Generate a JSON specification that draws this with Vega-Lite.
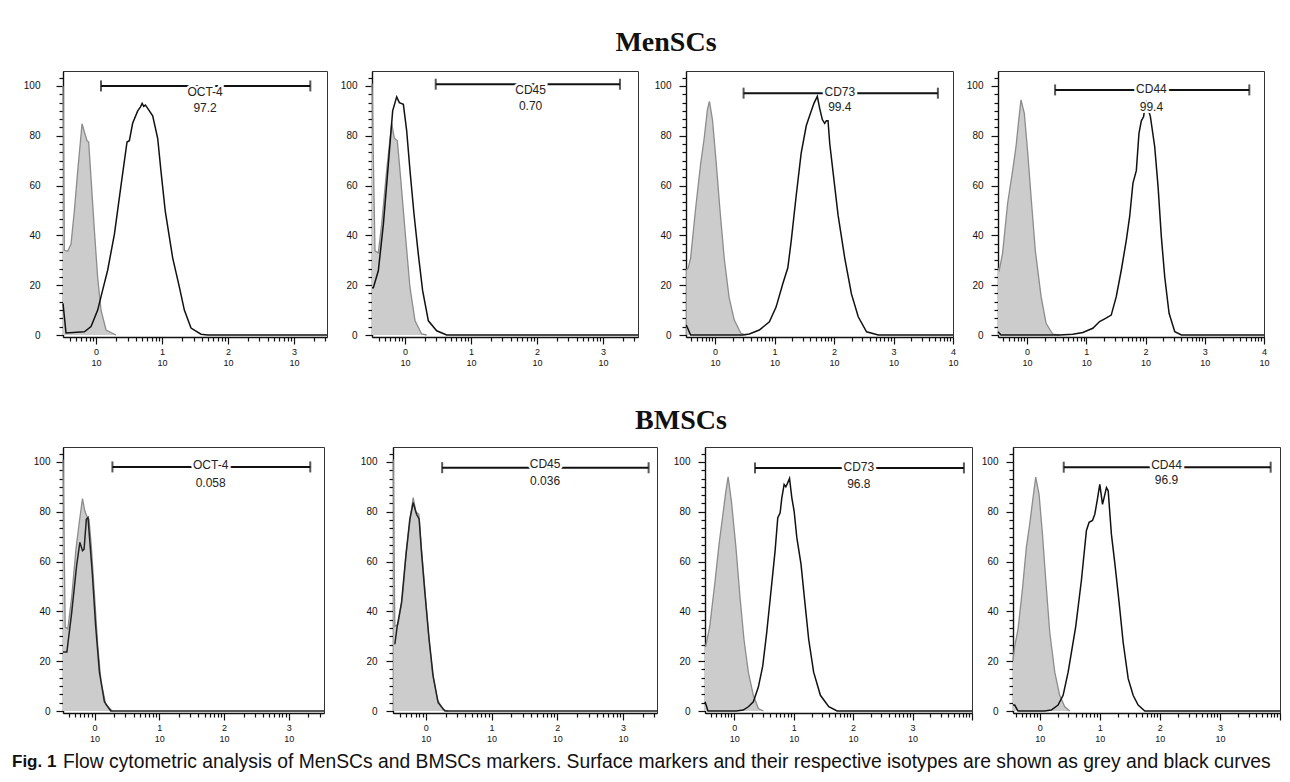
{
"$schema": "https://vega.github.io/schema/vega-lite/v6.json",
"padding": 0,
"autosize": {"type": "pad"},
"background": "white",
"spacing": 0,
"datasets": {
"curves": [
{"p":"p1","s":"i","x":0.316,"y":100},{"p":"p1","s":"i","x":0.331,"y":34},{"p":"p1","s":"i","x":0.372,"y":33.6},{"p":"p1","s":"i","x":0.418,"y":36.5},{"p":"p1","s":"i","x":0.47,"y":50},{"p":"p1","s":"i","x":0.527,"y":65.6},{"p":"p1","s":"i","x":0.614,"y":84.8},{"p":"p1","s":"i","x":0.666,"y":81.5},{"p":"p1","s":"i","x":0.731,"y":78},{"p":"p1","s":"i","x":0.774,"y":77.5},{"p":"p1","s":"i","x":0.84,"y":63},{"p":"p1","s":"i","x":0.944,"y":42},{"p":"p1","s":"i","x":1.06,"y":23},{"p":"p1","s":"i","x":1.19,"y":10},{"p":"p1","s":"i","x":1.42,"y":2},{"p":"p1","s":"i","x":2.01,"y":0},
{"p":"p1","s":"m","x":0.316,"y":12.7},{"p":"p1","s":"m","x":0.351,"y":0.8},{"p":"p1","s":"m","x":0.666,"y":1.3},{"p":"p1","s":"m","x":0.84,"y":3.4},{"p":"p1","s":"m","x":1.06,"y":10},{"p":"p1","s":"m","x":1.26,"y":18},{"p":"p1","s":"m","x":1.5,"y":26},{"p":"p1","s":"m","x":1.9,"y":40.5},{"p":"p1","s":"m","x":2.39,"y":60},{"p":"p1","s":"m","x":2.95,"y":77.5},{"p":"p1","s":"m","x":3.2,"y":78},{"p":"p1","s":"m","x":3.59,"y":85},{"p":"p1","s":"m","x":4.28,"y":90},{"p":"p1","s":"m","x":4.7,"y":91.5},{"p":"p1","s":"m","x":5.0,"y":93},{"p":"p1","s":"m","x":5.28,"y":91.8},{"p":"p1","s":"m","x":5.6,"y":92.3},{"p":"p1","s":"m","x":6.07,"y":91},{"p":"p1","s":"m","x":7.22,"y":88},{"p":"p1","s":"m","x":8.6,"y":79},{"p":"p1","s":"m","x":9.66,"y":65.6},{"p":"p1","s":"m","x":11.2,"y":49.7},{"p":"p1","s":"m","x":14.5,"y":31},{"p":"p1","s":"m","x":18.3,"y":19.3},{"p":"p1","s":"m","x":21.8,"y":10},{"p":"p1","s":"m","x":27.5,"y":2.8},{"p":"p1","s":"m","x":39,"y":0.3},{"p":"p1","s":"m","x":49.2,"y":0},{"p":"p1","s":"m","x":3162,"y":0},
{"p":"p2","s":"i","x":0.316,"y":101},{"p":"p2","s":"i","x":0.351,"y":33.8},{"p":"p2","s":"i","x":0.394,"y":33},{"p":"p2","s":"i","x":0.443,"y":44.5},{"p":"p2","s":"i","x":0.527,"y":66},{"p":"p2","s":"i","x":0.628,"y":85},{"p":"p2","s":"i","x":0.689,"y":79},{"p":"p2","s":"i","x":0.765,"y":78},{"p":"p2","s":"i","x":0.859,"y":63},{"p":"p2","s":"i","x":1.0,"y":42},{"p":"p2","s":"i","x":1.19,"y":19},{"p":"p2","s":"i","x":1.42,"y":5.7},{"p":"p2","s":"i","x":1.79,"y":0.4},{"p":"p2","s":"i","x":2.13,"y":0},
{"p":"p2","s":"m","x":0.316,"y":19},{"p":"p2","s":"m","x":0.331,"y":19},{"p":"p2","s":"m","x":0.394,"y":25.8},{"p":"p2","s":"m","x":0.47,"y":44.5},{"p":"p2","s":"m","x":0.559,"y":68.6},{"p":"p2","s":"m","x":0.65,"y":90},{"p":"p2","s":"m","x":0.748,"y":95.6},{"p":"p2","s":"m","x":0.821,"y":93.3},{"p":"p2","s":"m","x":0.944,"y":92.6},{"p":"p2","s":"m","x":1.06,"y":82},{"p":"p2","s":"m","x":1.19,"y":66},{"p":"p2","s":"m","x":1.37,"y":48.5},{"p":"p2","s":"m","x":1.59,"y":32.5},{"p":"p2","s":"m","x":1.85,"y":17.8},{"p":"p2","s":"m","x":2.26,"y":5.7},{"p":"p2","s":"m","x":3.02,"y":1.7},{"p":"p2","s":"m","x":4.28,"y":0},{"p":"p2","s":"m","x":3400,"y":0},
{"p":"p3","s":"i","x":0.327,"y":26},{"p":"p3","s":"i","x":0.354,"y":27},{"p":"p3","s":"i","x":0.388,"y":31},{"p":"p3","s":"i","x":0.471,"y":51},{"p":"p3","s":"i","x":0.573,"y":69},{"p":"p3","s":"i","x":0.652,"y":78.6},{"p":"p3","s":"i","x":0.742,"y":90.5},{"p":"p3","s":"i","x":0.802,"y":93.8},{"p":"p3","s":"i","x":0.902,"y":86.5},{"p":"p3","s":"i","x":1.03,"y":70.7},{"p":"p3","s":"i","x":1.2,"y":51},{"p":"p3","s":"i","x":1.42,"y":31},{"p":"p3","s":"i","x":1.72,"y":15},{"p":"p3","s":"i","x":2.1,"y":6},{"p":"p3","s":"i","x":2.71,"y":0.7},{"p":"p3","s":"i","x":3.3,"y":0},
{"p":"p3","s":"m","x":0.327,"y":4},{"p":"p3","s":"m","x":0.388,"y":0},{"p":"p3","s":"m","x":2.9,"y":0},{"p":"p3","s":"m","x":3.76,"y":0.4},{"p":"p3","s":"m","x":5.54,"y":2},{"p":"p3","s":"m","x":8.18,"y":5.3},{"p":"p3","s":"m","x":10.6,"y":11.2},{"p":"p3","s":"m","x":13.7,"y":20.5},{"p":"p3","s":"m","x":16.7,"y":27},{"p":"p3","s":"m","x":19,"y":37.6},{"p":"p3","s":"m","x":23.1,"y":56},{"p":"p3","s":"m","x":28,"y":73},{"p":"p3","s":"m","x":34.1,"y":84},{"p":"p3","s":"m","x":38.8,"y":88},{"p":"p3","s":"m","x":45.9,"y":93},{"p":"p3","s":"m","x":52.3,"y":95.8},{"p":"p3","s":"m","x":57.3,"y":91},{"p":"p3","s":"m","x":63.5,"y":86.5},{"p":"p3","s":"m","x":69.5,"y":85},{"p":"p3","s":"m","x":74.2,"y":86},{"p":"p3","s":"m","x":79.2,"y":86},{"p":"p3","s":"m","x":84.5,"y":77},{"p":"p3","s":"m","x":96.2,"y":65.4},{"p":"p3","s":"m","x":117,"y":48},{"p":"p3","s":"m","x":151,"y":31},{"p":"p3","s":"m","x":196,"y":16.5},{"p":"p3","s":"m","x":255,"y":7.3},{"p":"p3","s":"m","x":352,"y":1.3},{"p":"p3","s":"m","x":554,"y":0},{"p":"p3","s":"m","x":10000,"y":0},
{"p":"p4","s":"i","x":0.324,"y":27},{"p":"p4","s":"i","x":0.34,"y":26},{"p":"p4","s":"i","x":0.387,"y":32.8},{"p":"p4","s":"i","x":0.471,"y":52.9},{"p":"p4","s":"i","x":0.572,"y":66},{"p":"p4","s":"i","x":0.652,"y":75.6},{"p":"p4","s":"i","x":0.723,"y":86},{"p":"p4","s":"i","x":0.791,"y":94.4},{"p":"p4","s":"i","x":0.901,"y":89},{"p":"p4","s":"i","x":1.03,"y":73},{"p":"p4","s":"i","x":1.17,"y":55.6},{"p":"p4","s":"i","x":1.38,"y":34},{"p":"p4","s":"i","x":1.73,"y":15.4},{"p":"p4","s":"i","x":2.1,"y":4.7},{"p":"p4","s":"i","x":2.72,"y":0.3},{"p":"p4","s":"i","x":3.53,"y":0},
{"p":"p4","s":"m","x":0.324,"y":1.3},{"p":"p4","s":"m","x":0.363,"y":0},{"p":"p4","s":"m","x":3.53,"y":0},{"p":"p4","s":"m","x":5.93,"y":0.3},{"p":"p4","s":"m","x":8.75,"y":1},{"p":"p4","s":"m","x":12.9,"y":2.7},{"p":"p4","s":"m","x":16.8,"y":5.4},{"p":"p4","s":"m","x":21.2,"y":6.7},{"p":"p4","s":"m","x":26.4,"y":8},{"p":"p4","s":"m","x":32.1,"y":15.4},{"p":"p4","s":"m","x":39,"y":26},{"p":"p4","s":"m","x":47.4,"y":38},{"p":"p4","s":"m","x":54,"y":47.5},{"p":"p4","s":"m","x":61.4,"y":61},{"p":"p4","s":"m","x":70,"y":66},{"p":"p4","s":"m","x":77.6,"y":81},{"p":"p4","s":"m","x":85,"y":86},{"p":"p4","s":"m","x":93.1,"y":87.7},{"p":"p4","s":"m","x":96.8,"y":91},{"p":"p4","s":"m","x":103,"y":94},{"p":"p4","s":"m","x":110,"y":91},{"p":"p4","s":"m","x":121,"y":87.7},{"p":"p4","s":"m","x":143,"y":75.6},{"p":"p4","s":"m","x":163,"y":59.6},{"p":"p4","s":"m","x":185,"y":39.5},{"p":"p4","s":"m","x":211,"y":23.4},{"p":"p4","s":"m","x":250,"y":8.7},{"p":"p4","s":"m","x":312,"y":1.3},{"p":"p4","s":"m","x":404,"y":0},{"p":"p4","s":"m","x":10000,"y":0},
{"p":"p5","s":"i","x":0.326,"y":101},{"p":"p5","s":"i","x":0.353,"y":33.7},{"p":"p5","s":"i","x":0.387,"y":33},{"p":"p5","s":"i","x":0.445,"y":46},{"p":"p5","s":"i","x":0.517,"y":65},{"p":"p5","s":"i","x":0.581,"y":75.7},{"p":"p5","s":"i","x":0.652,"y":85.3},{"p":"p5","s":"i","x":0.707,"y":80.4},{"p":"p5","s":"i","x":0.766,"y":78},{"p":"p5","s":"i","x":0.822,"y":77},{"p":"p5","s":"i","x":0.891,"y":66.4},{"p":"p5","s":"i","x":1.0,"y":46.4},{"p":"p5","s":"i","x":1.12,"y":26.4},{"p":"p5","s":"i","x":1.26,"y":11.7},{"p":"p5","s":"i","x":1.5,"y":2.4},{"p":"p5","s":"i","x":1.89,"y":0},
{"p":"p5","s":"m","x":0.326,"y":23.7},{"p":"p5","s":"m","x":0.374,"y":23.7},{"p":"p5","s":"m","x":0.445,"y":39.7},{"p":"p5","s":"m","x":0.529,"y":58.4},{"p":"p5","s":"m","x":0.594,"y":67.7},{"p":"p5","s":"m","x":0.652,"y":64.4},{"p":"p5","s":"m","x":0.69,"y":65},{"p":"p5","s":"m","x":0.748,"y":77},{"p":"p5","s":"m","x":0.793,"y":77.7},{"p":"p5","s":"m","x":0.841,"y":69},{"p":"p5","s":"m","x":0.922,"y":55.7},{"p":"p5","s":"m","x":1.04,"y":34.4},{"p":"p5","s":"m","x":1.19,"y":15.7},{"p":"p5","s":"m","x":1.42,"y":3.7},{"p":"p5","s":"m","x":1.78,"y":0},{"p":"p5","s":"m","x":3500,"y":0},
{"p":"p6","s":"i","x":0.318,"y":101},{"p":"p6","s":"i","x":0.337,"y":34},{"p":"p6","s":"i","x":0.378,"y":34.8},{"p":"p6","s":"i","x":0.441,"y":46},{"p":"p6","s":"i","x":0.507,"y":65},{"p":"p6","s":"i","x":0.583,"y":78},{"p":"p6","s":"i","x":0.641,"y":85.7},{"p":"p6","s":"i","x":0.704,"y":80},{"p":"p6","s":"i","x":0.782,"y":79},{"p":"p6","s":"i","x":0.859,"y":65},{"p":"p6","s":"i","x":0.966,"y":48.9},{"p":"p6","s":"i","x":1.09,"y":31.5},{"p":"p6","s":"i","x":1.26,"y":15.4},{"p":"p6","s":"i","x":1.49,"y":4.7},{"p":"p6","s":"i","x":1.84,"y":0.4},{"p":"p6","s":"i","x":2.19,"y":0},
{"p":"p6","s":"m","x":0.337,"y":26.8},{"p":"p6","s":"m","x":0.366,"y":34},{"p":"p6","s":"m","x":0.426,"y":43.5},{"p":"p6","s":"m","x":0.495,"y":62},{"p":"p6","s":"m","x":0.57,"y":77},{"p":"p6","s":"m","x":0.641,"y":83.7},{"p":"p6","s":"m","x":0.721,"y":79},{"p":"p6","s":"m","x":0.791,"y":77},{"p":"p6","s":"m","x":0.859,"y":63.6},{"p":"p6","s":"m","x":0.966,"y":47.5},{"p":"p6","s":"m","x":1.12,"y":28.8},{"p":"p6","s":"m","x":1.29,"y":14},{"p":"p6","s":"m","x":1.54,"y":3.3},{"p":"p6","s":"m","x":1.95,"y":0},{"p":"p6","s":"m","x":3300,"y":0},
{"p":"p7","s":"i","x":0.323,"y":26},{"p":"p7","s":"i","x":0.332,"y":26},{"p":"p7","s":"i","x":0.388,"y":34},{"p":"p7","s":"i","x":0.471,"y":51},{"p":"p7","s":"i","x":0.557,"y":67},{"p":"p7","s":"i","x":0.635,"y":77.6},{"p":"p7","s":"i","x":0.723,"y":88},{"p":"p7","s":"i","x":0.791,"y":94},{"p":"p7","s":"i","x":0.901,"y":84},{"p":"p7","s":"i","x":1.07,"y":65.7},{"p":"p7","s":"i","x":1.25,"y":46},{"p":"p7","s":"i","x":1.46,"y":28.8},{"p":"p7","s":"i","x":1.73,"y":15.6},{"p":"p7","s":"i","x":2.1,"y":6.3},{"p":"p7","s":"i","x":2.55,"y":1},{"p":"p7","s":"i","x":3.1,"y":0},
{"p":"p7","s":"m","x":0.323,"y":3.7},{"p":"p7","s":"m","x":0.363,"y":0},{"p":"p7","s":"m","x":1.09,"y":0},{"p":"p7","s":"m","x":1.42,"y":0.4},{"p":"p7","s":"m","x":1.73,"y":1.7},{"p":"p7","s":"m","x":2.1,"y":3.7},{"p":"p7","s":"m","x":2.55,"y":9.6},{"p":"p7","s":"m","x":3.02,"y":18},{"p":"p7","s":"m","x":3.52,"y":31.4},{"p":"p7","s":"m","x":4.28,"y":51},{"p":"p7","s":"m","x":4.88,"y":64.4},{"p":"p7","s":"m","x":5.41,"y":77.6},{"p":"p7","s":"m","x":5.93,"y":79.6},{"p":"p7","s":"m","x":6.32,"y":85.5},{"p":"p7","s":"m","x":6.92,"y":91},{"p":"p7","s":"m","x":7.39,"y":90},{"p":"p7","s":"m","x":7.88,"y":91.4},{"p":"p7","s":"m","x":8.53,"y":93.4},{"p":"p7","s":"m","x":9.34,"y":85.5},{"p":"p7","s":"m","x":10.2,"y":80.2},{"p":"p7","s":"m","x":11.3,"y":69.7},{"p":"p7","s":"m","x":13.3,"y":59},{"p":"p7","s":"m","x":15.3,"y":44.6},{"p":"p7","s":"m","x":17.9,"y":28.8},{"p":"p7","s":"m","x":21.7,"y":15.6},{"p":"p7","s":"m","x":28.2,"y":6.3},{"p":"p7","s":"m","x":39,"y":1.7},{"p":"p7","s":"m","x":53.9,"y":0},{"p":"p7","s":"m","x":10000,"y":0},
{"p":"p8","s":"i","x":0.359,"y":20},{"p":"p8","s":"i","x":0.383,"y":26},{"p":"p8","s":"i","x":0.435,"y":32.8},{"p":"p8","s":"i","x":0.514,"y":48.7},{"p":"p8","s":"i","x":0.6,"y":65.9},{"p":"p8","s":"i","x":0.681,"y":75},{"p":"p8","s":"i","x":0.774,"y":85.7},{"p":"p8","s":"i","x":0.858,"y":93.9},{"p":"p8","s":"i","x":0.975,"y":87},{"p":"p8","s":"i","x":1.11,"y":71},{"p":"p8","s":"i","x":1.26,"y":52.6},{"p":"p8","s":"i","x":1.47,"y":31.5},{"p":"p8","s":"i","x":1.78,"y":15.6},{"p":"p8","s":"i","x":2.15,"y":6.3},{"p":"p8","s":"i","x":2.61,"y":1.7},{"p":"p8","s":"i","x":3.16,"y":0},
{"p":"p8","s":"m","x":0.359,"y":2.4},{"p":"p8","s":"m","x":0.383,"y":2.4},{"p":"p8","s":"m","x":0.435,"y":0},{"p":"p8","s":"m","x":1.21,"y":0},{"p":"p8","s":"m","x":1.56,"y":0.4},{"p":"p8","s":"m","x":2.02,"y":2.4},{"p":"p8","s":"m","x":2.45,"y":6.3},{"p":"p8","s":"m","x":2.97,"y":15.6},{"p":"p8","s":"m","x":3.37,"y":23.5},{"p":"p8","s":"m","x":3.98,"y":34},{"p":"p8","s":"m","x":4.95,"y":52.6},{"p":"p8","s":"m","x":5.99,"y":72.5},{"p":"p8","s":"m","x":6.64,"y":75.8},{"p":"p8","s":"m","x":7.55,"y":76.5},{"p":"p8","s":"m","x":8.26,"y":79},{"p":"p8","s":"m","x":9.03,"y":84.4},{"p":"p8","s":"m","x":10,"y":91},{"p":"p8","s":"m","x":11.1,"y":83},{"p":"p8","s":"m","x":11.8,"y":85.7},{"p":"p8","s":"m","x":12.9,"y":89.7},{"p":"p8","s":"m","x":13.8,"y":88.4},{"p":"p8","s":"m","x":15.6,"y":71},{"p":"p8","s":"m","x":17.8,"y":59.3},{"p":"p8","s":"m","x":21,"y":43.4},{"p":"p8","s":"m","x":24.5,"y":27.5},{"p":"p8","s":"m","x":29.7,"y":13},{"p":"p8","s":"m","x":35.9,"y":6.3},{"p":"p8","s":"m","x":43.5,"y":2.4},{"p":"p8","s":"m","x":56.2,"y":0},{"p":"p8","s":"m","x":10000,"y":0}
],
"gates": [
{"p":"p1","x1":1.19,"x2":1767,"y":100,"lx":44.9,"ly":97.6,"vy":91.3,"lab":"OCT-4","val":"97.2"},
{"p":"p2","x1":2.92,"x2":1811,"y":100.7,"lx":80,"ly":98.3,"vy":91.9,"lab":"CD45","val":"0.70"},
{"p":"p3","x1":3.01,"x2":5570,"y":97.1,"lx":125,"ly":97.5,"vy":91.5,"lab":"CD73","val":"99.4"},
{"p":"p4","x1":2.98,"x2":5650,"y":98.4,"lx":126,"ly":98.8,"vy":91.6,"lab":"CD44","val":"99.4"},
{"p":"p5","x1":1.89,"x2":2148,"y":98,"lx":62.2,"ly":98.7,"vy":91.6,"lab":"OCT-4","val":"0.058"},
{"p":"p6","x1":1.77,"x2":2460,"y":97.7,"lx":65.3,"ly":99,"vy":92.5,"lab":"CD45","val":"0.036"},
{"p":"p7","x1":2.24,"x2":7310,"y":97.6,"lx":125,"ly":98,"vy":91.3,"lab":"CD73","val":"96.8"},
{"p":"p8","x1":2.51,"x2":6990,"y":97.9,"lx":129,"ly":98.6,"vy":92.6,"lab":"CD44","val":"96.9"}
]
},
"vconcat": [
{"width": 1206, "height": 70, "view": {"stroke": null}, "data": {"values": [{"t": "MenSCs"}]},
 "mark": {"type": "text", "font": "Liberation Serif", "fontSize": 28, "fontWeight": "bold", "color": "#111", "dy": 7.5},
 "encoding": {"text": {"field": "t", "type": "nominal"}}},
{"hconcat": [
{"width": 264, "height": 266, "layer": [
 {"data": {"name": "curves"}, "transform": [{"filter": "datum.p=='p1' && datum.s=='i'"}], "mark": {"type": "area", "color": "#cccccc", "opacity": 1, "line": {"color": "#8c8c8c", "strokeWidth": 1.3}},
  "encoding": {"x": {"field": "x", "type": "quantitative", "scale": {"type": "log", "domain": [0.316, 3162], "nice": false},
    "axis": {"title": null, "values": [0.4,0.5,0.6,0.7,0.8,0.9,1,2,3,4,5,6,7,8,9,10,20,30,40,50,60,70,80,90,100,200,300,400,500,600,700,800,900,1000,2000,3000], "labelExpr": "datum.value==1?['\u2007\u20070','10']:datum.value==10?['\u2007\u20071','10']:datum.value==100?['\u2007\u20072','10']:datum.value==1000?['\u2007\u20073','10']:datum.value==10000?['\u2007\u20074','10']:''", "tickSize": {"condition": {"test": "abs(log(datum.value)/LN10-round(log(datum.value)/LN10))>0.001", "value": 4}, "value": 7}, "labelPadding": 3, "labelLineHeight": 11, "labelFontSize": 9, "minExtent": 34}},
   "y": {"field": "y", "type": "quantitative", "scale": {"domain": [-0.8, 106], "nice": false, "zero": false},
    "axis": {"title": null, "values": [0,3.333,6.667,10,13.333,16.667,20,23.333,26.667,30,33.333,36.667,40,43.333,46.667,50,53.333,56.667,60,63.333,66.667,70,73.333,76.667,80,83.333,86.667,90,93.333,96.667,100,103.333], "labelExpr": "datum.value%20==0?''+datum.value:''", "tickSize": {"condition": {"test": "datum.value%20!=0", "value": 4}, "value": 7}, "labelPadding": 16, "minExtent": 62}}}},
 {"data": {"name": "curves"}, "transform": [{"filter": "datum.p=='p1' && datum.s=='m'"}], "mark": {"type": "line", "color": "#111", "strokeWidth": 1.5},
  "encoding": {"x": {"field": "x", "type": "quantitative", "scale": {"type": "log", "domain": [0.316, 3162], "nice": false}}, "y": {"field": "y", "type": "quantitative", "scale": {"domain": [-0.8, 106], "nice": false, "zero": false}}}},
 {"data": {"name": "gates"}, "transform": [{"filter": "datum.p=='p1'"}], "layer": [
  {"mark": {"type": "rule", "color": "#111", "strokeWidth": 2}, "encoding": {"x": {"field": "x1", "type": "quantitative", "scale": {"type": "log", "domain": [0.316, 3162], "nice": false}}, "x2": {"field": "x2"}, "y": {"field": "y", "type": "quantitative", "scale": {"domain": [-0.8, 106], "nice": false, "zero": false}}}},
  {"mark": {"type": "tick", "orient": "vertical", "size": 11, "thickness": 2, "color": "#111"}, "encoding": {"x": {"field": "x1", "type": "quantitative"}, "y": {"field": "y", "type": "quantitative"}}},
  {"mark": {"type": "tick", "orient": "vertical", "size": 11, "thickness": 2, "color": "#111"}, "encoding": {"x": {"field": "x2", "type": "quantitative"}, "y": {"field": "y", "type": "quantitative"}}},
  {"mark": {"type": "text", "fontSize": 12, "color": "white", "stroke": "white", "strokeWidth": 5}, "encoding": {"x": {"field": "lx", "type": "quantitative"}, "y": {"field": "ly", "type": "quantitative"}, "text": {"field": "lab"}}},
  {"mark": {"type": "text", "fontSize": 12, "color": "#222"}, "encoding": {"x": {"field": "lx", "type": "quantitative"}, "y": {"field": "ly", "type": "quantitative"}, "text": {"field": "lab"}}},
  {"mark": {"type": "text", "fontSize": 12, "color": "white", "stroke": "white", "strokeWidth": 4}, "encoding": {"x": {"field": "lx", "type": "quantitative"}, "y": {"field": "vy", "type": "quantitative"}, "text": {"field": "val"}}},
  {"mark": {"type": "text", "fontSize": 12, "color": "#222"}, "encoding": {"x": {"field": "lx", "type": "quantitative"}, "y": {"field": "vy", "type": "quantitative"}, "text": {"field": "val"}}}
 ]}
]},
{"width": 266, "height": 266, "layer": [
 {"data": {"name": "curves"}, "transform": [{"filter": "datum.p=='p2' && datum.s=='i'"}], "mark": {"type": "area", "color": "#cccccc", "opacity": 1, "line": {"color": "#8c8c8c", "strokeWidth": 1.3}},
  "encoding": {"x": {"field": "x", "type": "quantitative", "scale": {"type": "log", "domain": [0.316, 3400], "nice": false},
    "axis": {"title": null, "values": [0.4,0.5,0.6,0.7,0.8,0.9,1,2,3,4,5,6,7,8,9,10,20,30,40,50,60,70,80,90,100,200,300,400,500,600,700,800,900,1000,2000,3000], "labelExpr": "datum.value==1?['\u2007\u20070','10']:datum.value==10?['\u2007\u20071','10']:datum.value==100?['\u2007\u20072','10']:datum.value==1000?['\u2007\u20073','10']:datum.value==10000?['\u2007\u20074','10']:''", "tickSize": {"condition": {"test": "abs(log(datum.value)/LN10-round(log(datum.value)/LN10))>0.001", "value": 4}, "value": 7}, "labelPadding": 3, "labelLineHeight": 11, "labelFontSize": 9, "minExtent": 34}},
   "y": {"field": "y", "type": "quantitative", "scale": {"domain": [-0.8, 106], "nice": false, "zero": false},
    "axis": {"title": null, "values": [0,3.333,6.667,10,13.333,16.667,20,23.333,26.667,30,33.333,36.667,40,43.333,46.667,50,53.333,56.667,60,63.333,66.667,70,73.333,76.667,80,83.333,86.667,90,93.333,96.667,100,103.333], "labelExpr": "datum.value%20==0?''+datum.value:''", "tickSize": {"condition": {"test": "datum.value%20!=0", "value": 4}, "value": 7}, "labelPadding": 8, "minExtent": 40}}}},
 {"data": {"name": "curves"}, "transform": [{"filter": "datum.p=='p2' && datum.s=='m'"}], "mark": {"type": "line", "color": "#111", "strokeWidth": 1.5},
  "encoding": {"x": {"field": "x", "type": "quantitative", "scale": {"type": "log", "domain": [0.316, 3400], "nice": false}}, "y": {"field": "y", "type": "quantitative", "scale": {"domain": [-0.8, 106], "nice": false, "zero": false}}}},
 {"data": {"name": "gates"}, "transform": [{"filter": "datum.p=='p2'"}], "layer": [
  {"mark": {"type": "rule", "color": "#111", "strokeWidth": 2}, "encoding": {"x": {"field": "x1", "type": "quantitative", "scale": {"type": "log", "domain": [0.316, 3400], "nice": false}}, "x2": {"field": "x2"}, "y": {"field": "y", "type": "quantitative", "scale": {"domain": [-0.8, 106], "nice": false, "zero": false}}}},
  {"mark": {"type": "tick", "orient": "vertical", "size": 11, "thickness": 2, "color": "#111"}, "encoding": {"x": {"field": "x1", "type": "quantitative"}, "y": {"field": "y", "type": "quantitative"}}},
  {"mark": {"type": "tick", "orient": "vertical", "size": 11, "thickness": 2, "color": "#111"}, "encoding": {"x": {"field": "x2", "type": "quantitative"}, "y": {"field": "y", "type": "quantitative"}}},
  {"mark": {"type": "text", "fontSize": 12, "color": "white", "stroke": "white", "strokeWidth": 5}, "encoding": {"x": {"field": "lx", "type": "quantitative"}, "y": {"field": "ly", "type": "quantitative"}, "text": {"field": "lab"}}},
  {"mark": {"type": "text", "fontSize": 12, "color": "#222"}, "encoding": {"x": {"field": "lx", "type": "quantitative"}, "y": {"field": "ly", "type": "quantitative"}, "text": {"field": "lab"}}},
  {"mark": {"type": "text", "fontSize": 12, "color": "white", "stroke": "white", "strokeWidth": 4}, "encoding": {"x": {"field": "lx", "type": "quantitative"}, "y": {"field": "vy", "type": "quantitative"}, "text": {"field": "val"}}},
  {"mark": {"type": "text", "fontSize": 12, "color": "#222"}, "encoding": {"x": {"field": "lx", "type": "quantitative"}, "y": {"field": "vy", "type": "quantitative"}, "text": {"field": "val"}}}
 ]}
]},
{"width": 267, "height": 266, "layer": [
 {"data": {"name": "curves"}, "transform": [{"filter": "datum.p=='p3' && datum.s=='i'"}], "mark": {"type": "area", "color": "#cccccc", "opacity": 1, "line": {"color": "#8c8c8c", "strokeWidth": 1.3}},
  "encoding": {"x": {"field": "x", "type": "quantitative", "scale": {"type": "log", "domain": [0.324, 10000], "nice": false},
    "axis": {"title": null, "values": [0.4,0.5,0.6,0.7,0.8,0.9,1,2,3,4,5,6,7,8,9,10,20,30,40,50,60,70,80,90,100,200,300,400,500,600,700,800,900,1000,2000,3000,4000,5000,6000,7000,8000,9000,10000], "labelExpr": "datum.value==1?['\u2007\u20070','10']:datum.value==10?['\u2007\u20071','10']:datum.value==100?['\u2007\u20072','10']:datum.value==1000?['\u2007\u20073','10']:datum.value==10000?['\u2007\u20074','10']:''", "tickSize": {"condition": {"test": "abs(log(datum.value)/LN10-round(log(datum.value)/LN10))>0.001", "value": 4}, "value": 7}, "labelPadding": 3, "labelLineHeight": 11, "labelFontSize": 9, "minExtent": 34}},
   "y": {"field": "y", "type": "quantitative", "scale": {"domain": [-0.8, 106], "nice": false, "zero": false},
    "axis": {"title": null, "values": [0,3.333,6.667,10,13.333,16.667,20,23.333,26.667,30,33.333,36.667,40,43.333,46.667,50,53.333,56.667,60,63.333,66.667,70,73.333,76.667,80,83.333,86.667,90,93.333,96.667,100,103.333], "labelExpr": "datum.value%20==0?''+datum.value:''", "tickSize": {"condition": {"test": "datum.value%20!=0", "value": 4}, "value": 7}, "labelPadding": 8, "minExtent": 43}}}},
 {"data": {"name": "curves"}, "transform": [{"filter": "datum.p=='p3' && datum.s=='m'"}], "mark": {"type": "line", "color": "#111", "strokeWidth": 1.5},
  "encoding": {"x": {"field": "x", "type": "quantitative", "scale": {"type": "log", "domain": [0.324, 10000], "nice": false}}, "y": {"field": "y", "type": "quantitative", "scale": {"domain": [-0.8, 106], "nice": false, "zero": false}}}},
 {"data": {"name": "gates"}, "transform": [{"filter": "datum.p=='p3'"}], "layer": [
  {"mark": {"type": "rule", "color": "#111", "strokeWidth": 2}, "encoding": {"x": {"field": "x1", "type": "quantitative", "scale": {"type": "log", "domain": [0.324, 10000], "nice": false}}, "x2": {"field": "x2"}, "y": {"field": "y", "type": "quantitative", "scale": {"domain": [-0.8, 106], "nice": false, "zero": false}}}},
  {"mark": {"type": "tick", "orient": "vertical", "size": 11, "thickness": 2, "color": "#111"}, "encoding": {"x": {"field": "x1", "type": "quantitative"}, "y": {"field": "y", "type": "quantitative"}}},
  {"mark": {"type": "tick", "orient": "vertical", "size": 11, "thickness": 2, "color": "#111"}, "encoding": {"x": {"field": "x2", "type": "quantitative"}, "y": {"field": "y", "type": "quantitative"}}},
  {"mark": {"type": "text", "fontSize": 12, "color": "white", "stroke": "white", "strokeWidth": 5}, "encoding": {"x": {"field": "lx", "type": "quantitative"}, "y": {"field": "ly", "type": "quantitative"}, "text": {"field": "lab"}}},
  {"mark": {"type": "text", "fontSize": 12, "color": "#222"}, "encoding": {"x": {"field": "lx", "type": "quantitative"}, "y": {"field": "ly", "type": "quantitative"}, "text": {"field": "lab"}}},
  {"mark": {"type": "text", "fontSize": 12, "color": "white", "stroke": "white", "strokeWidth": 4}, "encoding": {"x": {"field": "lx", "type": "quantitative"}, "y": {"field": "vy", "type": "quantitative"}, "text": {"field": "val"}}},
  {"mark": {"type": "text", "fontSize": 12, "color": "#222"}, "encoding": {"x": {"field": "lx", "type": "quantitative"}, "y": {"field": "vy", "type": "quantitative"}, "text": {"field": "val"}}}
 ]}
]},
{"width": 266, "height": 266, "layer": [
 {"data": {"name": "curves"}, "transform": [{"filter": "datum.p=='p4' && datum.s=='i'"}], "mark": {"type": "area", "color": "#cccccc", "opacity": 1, "line": {"color": "#8c8c8c", "strokeWidth": 1.3}},
  "encoding": {"x": {"field": "x", "type": "quantitative", "scale": {"type": "log", "domain": [0.324, 10000], "nice": false},
    "axis": {"title": null, "values": [0.4,0.5,0.6,0.7,0.8,0.9,1,2,3,4,5,6,7,8,9,10,20,30,40,50,60,70,80,90,100,200,300,400,500,600,700,800,900,1000,2000,3000,4000,5000,6000,7000,8000,9000,10000], "labelExpr": "datum.value==1?['\u2007\u20070','10']:datum.value==10?['\u2007\u20071','10']:datum.value==100?['\u2007\u20072','10']:datum.value==1000?['\u2007\u20073','10']:datum.value==10000?['\u2007\u20074','10']:''", "tickSize": {"condition": {"test": "abs(log(datum.value)/LN10-round(log(datum.value)/LN10))>0.001", "value": 4}, "value": 7}, "labelPadding": 3, "labelLineHeight": 11, "labelFontSize": 9, "minExtent": 34}},
   "y": {"field": "y", "type": "quantitative", "scale": {"domain": [-0.8, 106], "nice": false, "zero": false},
    "axis": {"title": null, "values": [0,3.333,6.667,10,13.333,16.667,20,23.333,26.667,30,33.333,36.667,40,43.333,46.667,50,53.333,56.667,60,63.333,66.667,70,73.333,76.667,80,83.333,86.667,90,93.333,96.667,100,103.333], "labelExpr": "datum.value%20==0?''+datum.value:''", "tickSize": {"condition": {"test": "datum.value%20!=0", "value": 4}, "value": 7}, "labelPadding": 8, "minExtent": 38}}}},
 {"data": {"name": "curves"}, "transform": [{"filter": "datum.p=='p4' && datum.s=='m'"}], "mark": {"type": "line", "color": "#111", "strokeWidth": 1.5},
  "encoding": {"x": {"field": "x", "type": "quantitative", "scale": {"type": "log", "domain": [0.324, 10000], "nice": false}}, "y": {"field": "y", "type": "quantitative", "scale": {"domain": [-0.8, 106], "nice": false, "zero": false}}}},
 {"data": {"name": "gates"}, "transform": [{"filter": "datum.p=='p4'"}], "layer": [
  {"mark": {"type": "rule", "color": "#111", "strokeWidth": 2}, "encoding": {"x": {"field": "x1", "type": "quantitative", "scale": {"type": "log", "domain": [0.324, 10000], "nice": false}}, "x2": {"field": "x2"}, "y": {"field": "y", "type": "quantitative", "scale": {"domain": [-0.8, 106], "nice": false, "zero": false}}}},
  {"mark": {"type": "tick", "orient": "vertical", "size": 11, "thickness": 2, "color": "#111"}, "encoding": {"x": {"field": "x1", "type": "quantitative"}, "y": {"field": "y", "type": "quantitative"}}},
  {"mark": {"type": "tick", "orient": "vertical", "size": 11, "thickness": 2, "color": "#111"}, "encoding": {"x": {"field": "x2", "type": "quantitative"}, "y": {"field": "y", "type": "quantitative"}}},
  {"mark": {"type": "text", "fontSize": 12, "color": "white", "stroke": "white", "strokeWidth": 5}, "encoding": {"x": {"field": "lx", "type": "quantitative"}, "y": {"field": "ly", "type": "quantitative"}, "text": {"field": "lab"}}},
  {"mark": {"type": "text", "fontSize": 12, "color": "#222"}, "encoding": {"x": {"field": "lx", "type": "quantitative"}, "y": {"field": "ly", "type": "quantitative"}, "text": {"field": "lab"}}},
  {"mark": {"type": "text", "fontSize": 12, "color": "white", "stroke": "white", "strokeWidth": 4}, "encoding": {"x": {"field": "lx", "type": "quantitative"}, "y": {"field": "vy", "type": "quantitative"}, "text": {"field": "val"}}},
  {"mark": {"type": "text", "fontSize": 12, "color": "#222"}, "encoding": {"x": {"field": "lx", "type": "quantitative"}, "y": {"field": "vy", "type": "quantitative"}, "text": {"field": "val"}}}
 ]}
]}
], "spacing": 0},
{"width": 1236, "height": 74, "view": {"stroke": null}, "data": {"values": [{"t": "BMSCs"}]},
 "mark": {"type": "text", "font": "Liberation Serif", "fontSize": 28, "fontWeight": "bold", "color": "#111", "dy": 12},
 "encoding": {"text": {"field": "t", "type": "nominal"}}},
{"hconcat": [
{"width": 261, "height": 266, "layer": [
 {"data": {"name": "curves"}, "transform": [{"filter": "datum.p=='p5' && datum.s=='i'"}], "mark": {"type": "area", "color": "#cccccc", "opacity": 1, "line": {"color": "#8c8c8c", "strokeWidth": 1.3}},
  "encoding": {"x": {"field": "x", "type": "quantitative", "scale": {"type": "log", "domain": [0.326, 3500], "nice": false},
    "axis": {"title": null, "values": [0.4,0.5,0.6,0.7,0.8,0.9,1,2,3,4,5,6,7,8,9,10,20,30,40,50,60,70,80,90,100,200,300,400,500,600,700,800,900,1000,2000,3000], "labelExpr": "datum.value==1?['\u2007\u20070','10']:datum.value==10?['\u2007\u20071','10']:datum.value==100?['\u2007\u20072','10']:datum.value==1000?['\u2007\u20073','10']:''", "tickSize": {"condition": {"test": "abs(log(datum.value)/LN10-round(log(datum.value)/LN10))>0.001", "value": 4}, "value": 7}, "labelPadding": 3, "labelLineHeight": 11, "labelFontSize": 9, "minExtent": 34}},
   "y": {"field": "y", "type": "quantitative", "scale": {"domain": [-0.8, 106], "nice": false, "zero": false},
    "axis": {"title": null, "values": [0,3.333,6.667,10,13.333,16.667,20,23.333,26.667,30,33.333,36.667,40,43.333,46.667,50,53.333,56.667,60,63.333,66.667,70,73.333,76.667,80,83.333,86.667,90,93.333,96.667,100,103.333], "labelExpr": "datum.value%20==0?''+datum.value:''", "tickSize": {"condition": {"test": "datum.value%20!=0", "value": 4}, "value": 7}, "labelPadding": 6, "minExtent": 56}}}},
 {"data": {"name": "curves"}, "transform": [{"filter": "datum.p=='p5' && datum.s=='m'"}], "mark": {"type": "line", "color": "#222", "strokeWidth": 1.5},
  "encoding": {"x": {"field": "x", "type": "quantitative", "scale": {"type": "log", "domain": [0.326, 3500], "nice": false}}, "y": {"field": "y", "type": "quantitative", "scale": {"domain": [-0.8, 106], "nice": false, "zero": false}}}},
 {"data": {"name": "gates"}, "transform": [{"filter": "datum.p=='p5'"}], "layer": [
  {"mark": {"type": "rule", "color": "#111", "strokeWidth": 2}, "encoding": {"x": {"field": "x1", "type": "quantitative", "scale": {"type": "log", "domain": [0.326, 3500], "nice": false}}, "x2": {"field": "x2"}, "y": {"field": "y", "type": "quantitative", "scale": {"domain": [-0.8, 106], "nice": false, "zero": false}}}},
  {"mark": {"type": "tick", "orient": "vertical", "size": 11, "thickness": 2, "color": "#111"}, "encoding": {"x": {"field": "x1", "type": "quantitative"}, "y": {"field": "y", "type": "quantitative"}}},
  {"mark": {"type": "tick", "orient": "vertical", "size": 11, "thickness": 2, "color": "#111"}, "encoding": {"x": {"field": "x2", "type": "quantitative"}, "y": {"field": "y", "type": "quantitative"}}},
  {"mark": {"type": "text", "fontSize": 12, "color": "white", "stroke": "white", "strokeWidth": 5}, "encoding": {"x": {"field": "lx", "type": "quantitative"}, "y": {"field": "ly", "type": "quantitative"}, "text": {"field": "lab"}}},
  {"mark": {"type": "text", "fontSize": 12, "color": "#222"}, "encoding": {"x": {"field": "lx", "type": "quantitative"}, "y": {"field": "ly", "type": "quantitative"}, "text": {"field": "lab"}}},
  {"mark": {"type": "text", "fontSize": 12, "color": "white", "stroke": "white", "strokeWidth": 4}, "encoding": {"x": {"field": "lx", "type": "quantitative"}, "y": {"field": "vy", "type": "quantitative"}, "text": {"field": "val"}}},
  {"mark": {"type": "text", "fontSize": 12, "color": "#222"}, "encoding": {"x": {"field": "lx", "type": "quantitative"}, "y": {"field": "vy", "type": "quantitative"}, "text": {"field": "val"}}}
 ]}
]},
{"width": 264, "height": 266, "layer": [
 {"data": {"name": "curves"}, "transform": [{"filter": "datum.p=='p6' && datum.s=='i'"}], "mark": {"type": "area", "color": "#cccccc", "opacity": 1, "line": {"color": "#8c8c8c", "strokeWidth": 1.3}},
  "encoding": {"x": {"field": "x", "type": "quantitative", "scale": {"type": "log", "domain": [0.316, 3300], "nice": false},
    "axis": {"title": null, "values": [0.4,0.5,0.6,0.7,0.8,0.9,1,2,3,4,5,6,7,8,9,10,20,30,40,50,60,70,80,90,100,200,300,400,500,600,700,800,900,1000,2000,3000], "labelExpr": "datum.value==1?['\u2007\u20070','10']:datum.value==10?['\u2007\u20071','10']:datum.value==100?['\u2007\u20072','10']:datum.value==1000?['\u2007\u20073','10']:''", "tickSize": {"condition": {"test": "abs(log(datum.value)/LN10-round(log(datum.value)/LN10))>0.001", "value": 4}, "value": 7}, "labelPadding": 3, "labelLineHeight": 11, "labelFontSize": 9, "minExtent": 34}},
   "y": {"field": "y", "type": "quantitative", "scale": {"domain": [-0.8, 106], "nice": false, "zero": false},
    "axis": {"title": null, "values": [0,3.333,6.667,10,13.333,16.667,20,23.333,26.667,30,33.333,36.667,40,43.333,46.667,50,53.333,56.667,60,63.333,66.667,70,73.333,76.667,80,83.333,86.667,90,93.333,96.667,100,103.333], "labelExpr": "datum.value%20==0?''+datum.value:''", "tickSize": {"condition": {"test": "datum.value%20!=0", "value": 4}, "value": 7}, "labelPadding": 9, "minExtent": 64}}}},
 {"data": {"name": "curves"}, "transform": [{"filter": "datum.p=='p6' && datum.s=='m'"}], "mark": {"type": "line", "color": "#222", "strokeWidth": 1.5},
  "encoding": {"x": {"field": "x", "type": "quantitative", "scale": {"type": "log", "domain": [0.316, 3300], "nice": false}}, "y": {"field": "y", "type": "quantitative", "scale": {"domain": [-0.8, 106], "nice": false, "zero": false}}}},
 {"data": {"name": "gates"}, "transform": [{"filter": "datum.p=='p6'"}], "layer": [
  {"mark": {"type": "rule", "color": "#111", "strokeWidth": 2}, "encoding": {"x": {"field": "x1", "type": "quantitative", "scale": {"type": "log", "domain": [0.316, 3300], "nice": false}}, "x2": {"field": "x2"}, "y": {"field": "y", "type": "quantitative", "scale": {"domain": [-0.8, 106], "nice": false, "zero": false}}}},
  {"mark": {"type": "tick", "orient": "vertical", "size": 11, "thickness": 2, "color": "#111"}, "encoding": {"x": {"field": "x1", "type": "quantitative"}, "y": {"field": "y", "type": "quantitative"}}},
  {"mark": {"type": "tick", "orient": "vertical", "size": 11, "thickness": 2, "color": "#111"}, "encoding": {"x": {"field": "x2", "type": "quantitative"}, "y": {"field": "y", "type": "quantitative"}}},
  {"mark": {"type": "text", "fontSize": 12, "color": "white", "stroke": "white", "strokeWidth": 5}, "encoding": {"x": {"field": "lx", "type": "quantitative"}, "y": {"field": "ly", "type": "quantitative"}, "text": {"field": "lab"}}},
  {"mark": {"type": "text", "fontSize": 12, "color": "#222"}, "encoding": {"x": {"field": "lx", "type": "quantitative"}, "y": {"field": "ly", "type": "quantitative"}, "text": {"field": "lab"}}},
  {"mark": {"type": "text", "fontSize": 12, "color": "white", "stroke": "white", "strokeWidth": 4}, "encoding": {"x": {"field": "lx", "type": "quantitative"}, "y": {"field": "vy", "type": "quantitative"}, "text": {"field": "val"}}},
  {"mark": {"type": "text", "fontSize": 12, "color": "#222"}, "encoding": {"x": {"field": "lx", "type": "quantitative"}, "y": {"field": "vy", "type": "quantitative"}, "text": {"field": "val"}}}
 ]}
]},
{"width": 267, "height": 266, "layer": [
 {"data": {"name": "curves"}, "transform": [{"filter": "datum.p=='p7' && datum.s=='i'"}], "mark": {"type": "area", "color": "#cccccc", "opacity": 1, "line": {"color": "#8c8c8c", "strokeWidth": 1.3}},
  "encoding": {"x": {"field": "x", "type": "quantitative", "scale": {"type": "log", "domain": [0.323, 10000], "nice": false},
    "axis": {"title": null, "values": [0.4,0.5,0.6,0.7,0.8,0.9,1,2,3,4,5,6,7,8,9,10,20,30,40,50,60,70,80,90,100,200,300,400,500,600,700,800,900,1000,2000,3000,4000,5000,6000,7000,8000,9000,10000], "labelExpr": "datum.value==1?['\u2007\u20070','10']:datum.value==10?['\u2007\u20071','10']:datum.value==100?['\u2007\u20072','10']:datum.value==1000?['\u2007\u20073','10']:''", "tickSize": {"condition": {"test": "abs(log(datum.value)/LN10-round(log(datum.value)/LN10))>0.001", "value": 4}, "value": 7}, "labelPadding": 3, "labelLineHeight": 11, "labelFontSize": 9, "minExtent": 34}},
   "y": {"field": "y", "type": "quantitative", "scale": {"domain": [-0.8, 106], "nice": false, "zero": false},
    "axis": {"title": null, "values": [0,3.333,6.667,10,13.333,16.667,20,23.333,26.667,30,33.333,36.667,40,43.333,46.667,50,53.333,56.667,60,63.333,66.667,70,73.333,76.667,80,83.333,86.667,90,93.333,96.667,100,103.333], "labelExpr": "datum.value%20==0?''+datum.value:''", "tickSize": {"condition": {"test": "datum.value%20!=0", "value": 4}, "value": 7}, "labelPadding": 8, "minExtent": 43}}}},
 {"data": {"name": "curves"}, "transform": [{"filter": "datum.p=='p7' && datum.s=='m'"}], "mark": {"type": "line", "color": "#111", "strokeWidth": 1.5},
  "encoding": {"x": {"field": "x", "type": "quantitative", "scale": {"type": "log", "domain": [0.323, 10000], "nice": false}}, "y": {"field": "y", "type": "quantitative", "scale": {"domain": [-0.8, 106], "nice": false, "zero": false}}}},
 {"data": {"name": "gates"}, "transform": [{"filter": "datum.p=='p7'"}], "layer": [
  {"mark": {"type": "rule", "color": "#111", "strokeWidth": 2}, "encoding": {"x": {"field": "x1", "type": "quantitative", "scale": {"type": "log", "domain": [0.323, 10000], "nice": false}}, "x2": {"field": "x2"}, "y": {"field": "y", "type": "quantitative", "scale": {"domain": [-0.8, 106], "nice": false, "zero": false}}}},
  {"mark": {"type": "tick", "orient": "vertical", "size": 11, "thickness": 2, "color": "#111"}, "encoding": {"x": {"field": "x1", "type": "quantitative"}, "y": {"field": "y", "type": "quantitative"}}},
  {"mark": {"type": "tick", "orient": "vertical", "size": 11, "thickness": 2, "color": "#111"}, "encoding": {"x": {"field": "x2", "type": "quantitative"}, "y": {"field": "y", "type": "quantitative"}}},
  {"mark": {"type": "text", "fontSize": 12, "color": "white", "stroke": "white", "strokeWidth": 5}, "encoding": {"x": {"field": "lx", "type": "quantitative"}, "y": {"field": "ly", "type": "quantitative"}, "text": {"field": "lab"}}},
  {"mark": {"type": "text", "fontSize": 12, "color": "#222"}, "encoding": {"x": {"field": "lx", "type": "quantitative"}, "y": {"field": "ly", "type": "quantitative"}, "text": {"field": "lab"}}},
  {"mark": {"type": "text", "fontSize": 12, "color": "white", "stroke": "white", "strokeWidth": 4}, "encoding": {"x": {"field": "lx", "type": "quantitative"}, "y": {"field": "vy", "type": "quantitative"}, "text": {"field": "val"}}},
  {"mark": {"type": "text", "fontSize": 12, "color": "#222"}, "encoding": {"x": {"field": "lx", "type": "quantitative"}, "y": {"field": "vy", "type": "quantitative"}, "text": {"field": "val"}}}
 ]}
]},
{"width": 267, "height": 266, "layer": [
 {"data": {"name": "curves"}, "transform": [{"filter": "datum.p=='p8' && datum.s=='i'"}], "mark": {"type": "area", "color": "#cccccc", "opacity": 1, "line": {"color": "#8c8c8c", "strokeWidth": 1.3}},
  "encoding": {"x": {"field": "x", "type": "quantitative", "scale": {"type": "log", "domain": [0.359, 10000], "nice": false},
    "axis": {"title": null, "values": [0.4,0.5,0.6,0.7,0.8,0.9,1,2,3,4,5,6,7,8,9,10,20,30,40,50,60,70,80,90,100,200,300,400,500,600,700,800,900,1000,2000,3000,4000,5000,6000,7000,8000,9000,10000], "labelExpr": "datum.value==1?['\u2007\u20070','10']:datum.value==10?['\u2007\u20071','10']:datum.value==100?['\u2007\u20072','10']:datum.value==1000?['\u2007\u20073','10']:''", "tickSize": {"condition": {"test": "abs(log(datum.value)/LN10-round(log(datum.value)/LN10))>0.001", "value": 4}, "value": 7}, "labelPadding": 3, "labelLineHeight": 11, "labelFontSize": 9, "minExtent": 34}},
   "y": {"field": "y", "type": "quantitative", "scale": {"domain": [-0.8, 106], "nice": false, "zero": false},
    "axis": {"title": null, "values": [0,3.333,6.667,10,13.333,16.667,20,23.333,26.667,30,33.333,36.667,40,43.333,46.667,50,53.333,56.667,60,63.333,66.667,70,73.333,76.667,80,83.333,86.667,90,93.333,96.667,100,103.333], "labelExpr": "datum.value%20==0?''+datum.value:''", "tickSize": {"condition": {"test": "datum.value%20!=0", "value": 4}, "value": 7}, "labelPadding": 8, "minExtent": 36}}}},
 {"data": {"name": "curves"}, "transform": [{"filter": "datum.p=='p8' && datum.s=='m'"}], "mark": {"type": "line", "color": "#111", "strokeWidth": 1.5},
  "encoding": {"x": {"field": "x", "type": "quantitative", "scale": {"type": "log", "domain": [0.359, 10000], "nice": false}}, "y": {"field": "y", "type": "quantitative", "scale": {"domain": [-0.8, 106], "nice": false, "zero": false}}}},
 {"data": {"name": "gates"}, "transform": [{"filter": "datum.p=='p8'"}], "layer": [
  {"mark": {"type": "rule", "color": "#111", "strokeWidth": 2}, "encoding": {"x": {"field": "x1", "type": "quantitative", "scale": {"type": "log", "domain": [0.359, 10000], "nice": false}}, "x2": {"field": "x2"}, "y": {"field": "y", "type": "quantitative", "scale": {"domain": [-0.8, 106], "nice": false, "zero": false}}}},
  {"mark": {"type": "tick", "orient": "vertical", "size": 11, "thickness": 2, "color": "#111"}, "encoding": {"x": {"field": "x1", "type": "quantitative"}, "y": {"field": "y", "type": "quantitative"}}},
  {"mark": {"type": "tick", "orient": "vertical", "size": 11, "thickness": 2, "color": "#111"}, "encoding": {"x": {"field": "x2", "type": "quantitative"}, "y": {"field": "y", "type": "quantitative"}}},
  {"mark": {"type": "text", "fontSize": 12, "color": "white", "stroke": "white", "strokeWidth": 5}, "encoding": {"x": {"field": "lx", "type": "quantitative"}, "y": {"field": "ly", "type": "quantitative"}, "text": {"field": "lab"}}},
  {"mark": {"type": "text", "fontSize": 12, "color": "#222"}, "encoding": {"x": {"field": "lx", "type": "quantitative"}, "y": {"field": "ly", "type": "quantitative"}, "text": {"field": "lab"}}},
  {"mark": {"type": "text", "fontSize": 12, "color": "white", "stroke": "white", "strokeWidth": 4}, "encoding": {"x": {"field": "lx", "type": "quantitative"}, "y": {"field": "vy", "type": "quantitative"}, "text": {"field": "val"}}},
  {"mark": {"type": "text", "fontSize": 12, "color": "#222"}, "encoding": {"x": {"field": "lx", "type": "quantitative"}, "y": {"field": "vy", "type": "quantitative"}, "text": {"field": "val"}}}
 ]}
]}
], "spacing": 0},
{"width": 1200, "height": 34, "view": {"stroke": null}, "data": {"values": [{"a": "Fig. 1", "b": "Flow cytometric analysis of MenSCs and BMSCs markers. Surface markers and their respective isotypes are shown as grey and black curves"}]},
 "layer": [
  {"mark": {"type": "text", "font": "Liberation Sans", "fontWeight": "bold", "fontSize": 17, "color": "#111", "align": "left", "dx": -651, "dy": -3}, "encoding": {"text": {"field": "a", "type": "nominal"}}},
  {"mark": {"type": "text", "font": "Liberation Sans", "fontSize": 19.3, "color": "#111", "align": "left", "dx": -600, "dy": -3}, "encoding": {"text": {"field": "b", "type": "nominal"}}}
 ]}
],
"config": {
 "view": {"stroke": "#333", "strokeWidth": 1},
 "font": "Liberation Sans",
 "axis": {"grid": false, "labelOverlap": false, "labelFlush": false, "tickCount": 500, "labelFont": "Liberation Sans", "labelFontSize": 10, "labelColor": "#111", "tickColor": "#111", "tickWidth": 1.2, "domainColor": "#111", "domainWidth": 1.4}
}
}
